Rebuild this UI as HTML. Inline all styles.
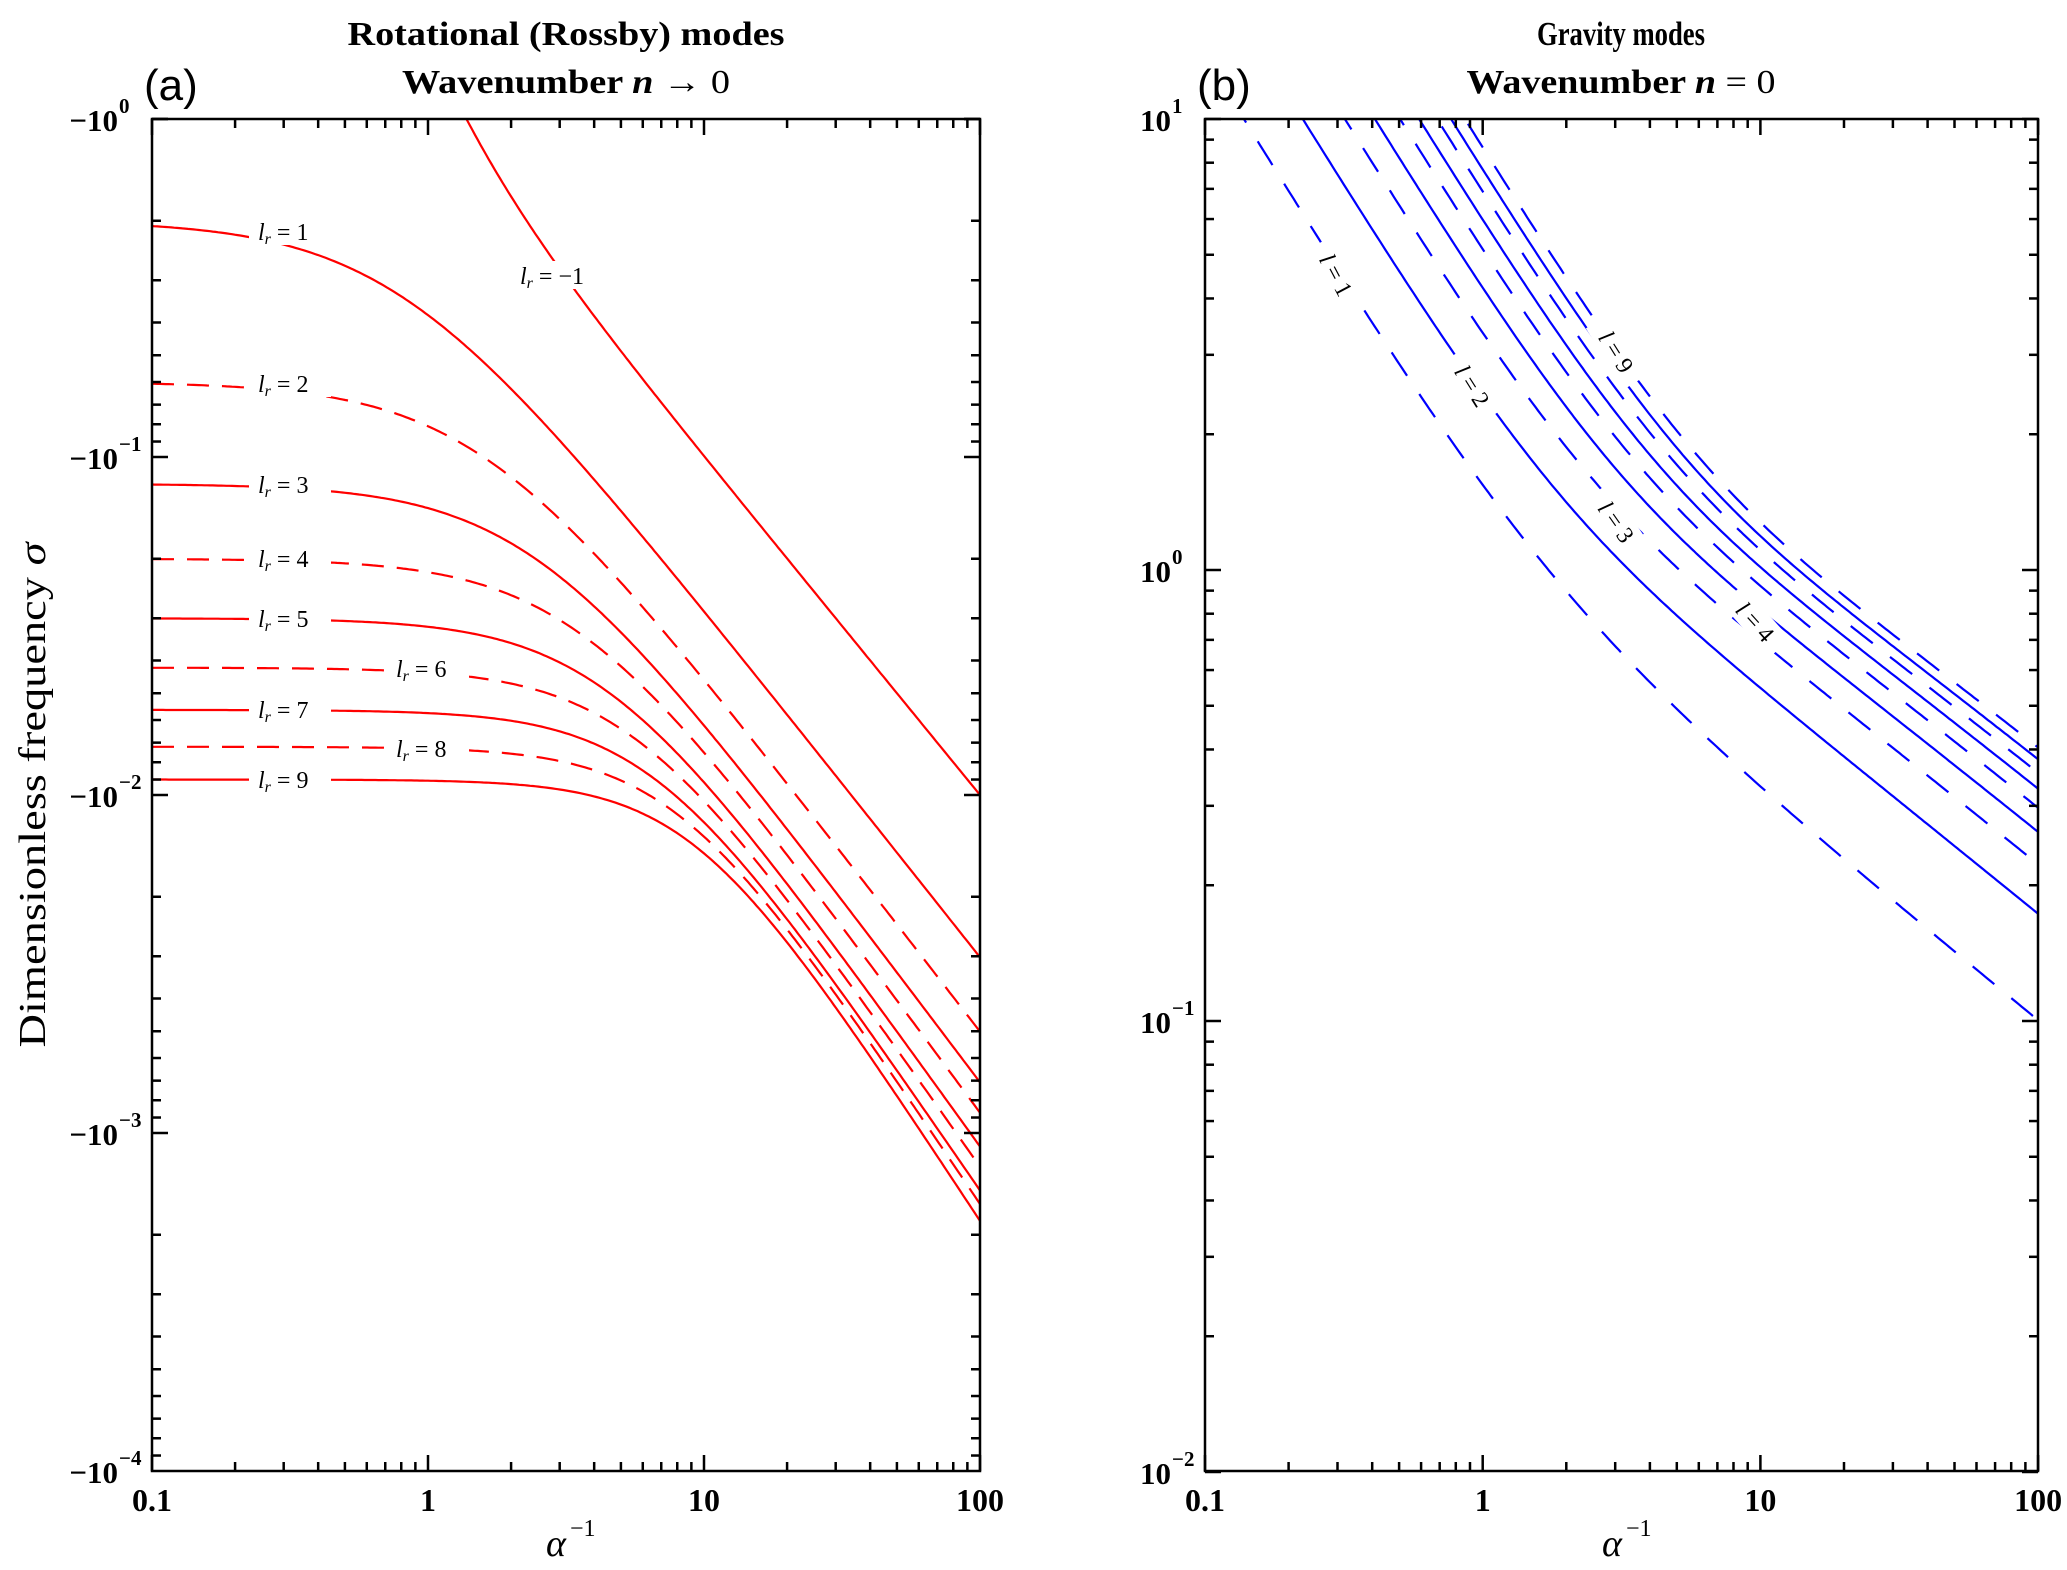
<!DOCTYPE html>
<html><head><meta charset="utf-8">
<style>
html,body{margin:0;padding:0;background:#fff;}
svg{display:block;}
</style></head>
<body>
<svg id="s" xmlns="http://www.w3.org/2000/svg" width="2067" height="1570" viewBox="0 0 2067 1570">
<defs>
<clipPath id="ca"><rect x="152" y="119" width="828" height="1352"/></clipPath>
<clipPath id="cb"><rect x="1205" y="119" width="833" height="1352"/></clipPath>
</defs>
<rect width="2067" height="1570" fill="#fff"/>
<g id="curves"></g>
<g id="labels" font-family="Liberation Serif, serif" font-size="24" fill="#000"></g>
<g id="axes" stroke="#000" stroke-width="2.5" fill="none"></g>
<g id="ticktext" font-family="Liberation Serif, serif" font-weight="bold" fill="#000"></g>
<!-- titles -->
<g font-family="Liberation Serif, serif" font-weight="bold" fill="#000" font-size="34" text-anchor="middle">
<text x="566" y="45" textLength="437" lengthAdjust="spacingAndGlyphs">Rotational (Rossby) modes</text>
<text x="566" y="93" textLength="328" lengthAdjust="spacingAndGlyphs">Wavenumber <tspan font-style="italic">n</tspan> <tspan font-weight="normal">→ 0</tspan></text>
<text x="1621" y="45" textLength="168" lengthAdjust="spacingAndGlyphs">Gravity modes</text>
<text x="1621" y="93" textLength="309" lengthAdjust="spacingAndGlyphs">Wavenumber <tspan font-style="italic">n</tspan> <tspan font-weight="normal">= 0</tspan></text>
</g>
<g font-family="Liberation Sans, sans-serif" font-size="44" fill="#000">
<text x="144" y="100">(a)</text>
<text x="1197" y="100">(b)</text>
</g>
<text transform="translate(45,795) rotate(-90)" text-anchor="middle" font-family="Liberation Serif, serif" font-size="38" textLength="505" lengthAdjust="spacingAndGlyphs" fill="#000">Dimensionless frequency <tspan font-style="italic">σ</tspan></text>
<g font-family="Liberation Serif, serif" fill="#000">
<text x="546" y="1556" font-size="38" font-style="italic">α</text><text x="570" y="1536" font-size="24">−1</text>
<text x="1602" y="1556" font-size="38" font-style="italic">α</text><text x="1626" y="1536" font-size="24">−1</text>
</g>
</svg>
<script>
(function(){
var NS="http://www.w3.org/2000/svg";
function el(tag,attrs,parent,txt){var e=document.createElementNS(NS,tag);for(var k in attrs)e.setAttribute(k,attrs[k]);if(txt!==undefined)e.textContent=txt;parent.appendChild(e);return e;}
var curves=document.getElementById('curves'),labels=document.getElementById('labels'),axes=document.getElementById('axes'),tt=document.getElementById('ticktext');
var L10=Math.log(10);
function sp(z){return z>30?z:Math.log(1+Math.exp(z));}
function isp(v){return v>30?v:Math.log(Math.exp(v)-1);}
var gA=el('g',{'clip-path':'url(#ca)',fill:'none',stroke:'#ff0000','stroke-width':2.2},curves);
function pxA(u){return 152+276*(u+1);} function pyA(ls){return 119+338*(-ls);}
var E=[-2.48,-2.70,-2.85,-2.94,-3.04,-3.10,-3.17,-3.21,-3.26];
for(var l=1;l<=9;l++){
  var y0=-Math.log(l*(l+1))/L10, D=y0-E[l-1];
  var t=(l-1)/8, k=1.03+0.22*t, w=0.3-0.08*t;
  var u0=2-w*isp(D/(k*w));
  var d='';
  for(var i=0;i<=300;i++){var u=-1+3*i/300;var ys=y0-k*w*sp((u-u0)/w);d+=(i?'L':'M')+pxA(u).toFixed(1)+' '+pyA(ys).toFixed(1);}
  var a={d:d};
  if(l%2==0){a['stroke-dasharray']='22 13';}
  el('path',a,gA);
}
var d='';var first=true;
for(var i=0;i<=300;i++){var u=-1+3*i/300;var x=Math.pow(10,u);var s=1/x+0.72/Math.pow(x,3);if(s>1.05)continue;d+=(first?'M':'L')+pxA(u).toFixed(1)+' '+pyA(Math.log(s)/L10).toFixed(1);first=false;}
el('path',{d:d},gA);
var labA=[[1,289,232],[2,289,384],[3,289,485],[4,289,559],[5,289,619],[6,427,669],[7,289,710],[8,427,749],[9,289,780],[-1,554,276]];
labA.forEach(function(q){
  el('rect',{x:q[1]-40,y:q[2]-15,width:(q[0]<0?96:82),height:28,fill:'#fff'},labels);
  var t=el('text',{x:q[1]-(q[0]<0?34:31),y:q[2]+8},labels);
  el('tspan',{'font-style':'italic'},t,'l');
  el('tspan',{'font-style':'italic','font-size':'16',dy:'4'},t,'r');
  el('tspan',{dy:'-4'},t,' = '+(q[0]<0?'−1':q[0]));
});
var gB=el('g',{'clip-path':'url(#cb)',fill:'none',stroke:'#0000ff','stroke-width':2.2},curves);
function pxB(u){return 1205+277.7*(u+1);} function pyB(ls){return 119+451*(1-ls);}
var X10=[0.138,0.225,0.319,0.409,0.504,0.59,0.685,0.769,0.863];
for(var l=1;l<=9;l++){
  var xc=X10[l-1];var c=xc*Math.sqrt(Math.max(1,100-(2*l-1)/(xc+l)));
  var d='';
  for(var i=0;i<=300;i++){var u=-1+3*i/300;var x=Math.pow(10,u);var s2=c*c/(x*x)+(2*l-1)/(x+l);var ls=0.5*Math.log(s2)/L10;d+=(i?'L':'M')+pxB(u).toFixed(1)+' '+pyB(ls).toFixed(1);}
  var a={d:d};
  if(l%2==1){a['stroke-dasharray']='28 22';}
  el('path',a,gB);
}
var labB=[[1,1336,275,62],[2,1472,386,58],[3,1616,522,55],[4,1755,622,48],[9,1616,352,58]];
labB.forEach(function(q){
  var g=el('g',{transform:'translate('+q[1]+','+q[2]+') rotate('+q[3]+')'},labels);
  el('rect',{x:-36,y:-15,width:72,height:28,fill:'#fff'},g);
  var t=el('text',{x:0,y:8,'text-anchor':'middle'},g);
  el('tspan',{'font-style':'italic'},t,'l');
  el('tspan',{},t,' = '+q[0]);
});
function frame(x0,y0,x1,y1){el('rect',{x:x0,y:y0,width:x1-x0,height:y1-y0},axes);}
frame(152,119,980,1471);frame(1205,119,2038,1471);
function xticks(X0,dec,yT,yB){
  for(var p=0;p<3;p++){for(var m=1;m<=9;m++){var x=X0+dec*(p+Math.log(m)/L10);var len=(m==1)?16:9;
    el('line',{x1:x,y1:yB,x2:x,y2:yB-len},axes);el('line',{x1:x,y1:yT,x2:x,y2:yT+len},axes);}}
  var x=X0+dec*3;el('line',{x1:x,y1:yB,x2:x,y2:yB-16},axes);el('line',{x1:x,y1:yT,x2:x,y2:yT+16},axes);
  ['0.1','1','10','100'].forEach(function(s,i){el('text',{x:X0+dec*i,y:1511,'text-anchor':'middle','font-size':'32'},tt,s);});
}
xticks(152,276,119,1471);xticks(1205,277.7,119,1471);
function yticks(XL,XR,Ytop,dec,nd,neg,exps){
  for(var p=0;p<nd;p++){for(var m=1;m<=9;m++){var y=Ytop+dec*(p+1-Math.log(m)/L10);if(m==1)y=Ytop+dec*(p+1);var len=(m==1)?16:9;
    if(neg){y=Ytop+dec*(p+Math.log(m)/L10);}
    el('line',{x1:XL,y1:y,x2:XL+len,y2:y},axes);el('line',{x1:XR,y1:y,x2:XR-len,y2:y},axes);}}
  el('line',{x1:XL,y1:Ytop,x2:XL+16,y2:Ytop},axes);el('line',{x1:XR,y1:Ytop,x2:XR-16,y2:Ytop},axes);
  exps.forEach(function(e,i){var y=Ytop+dec*i;
    el('text',{x:XL-34,y:y+12,'text-anchor':'end','font-size':'31'},tt,(neg?'−10':'10'));
    el('text',{x:XL-33,y:y-6,'font-size':'21'},tt,e);});
}
yticks(152,980,119,338,4,true,['0','−1','−2','−3','−4']);
yticks(1205,2038,119,451,3,false,['1','0','−1','−2']);
})();
</script>
</body></html>
